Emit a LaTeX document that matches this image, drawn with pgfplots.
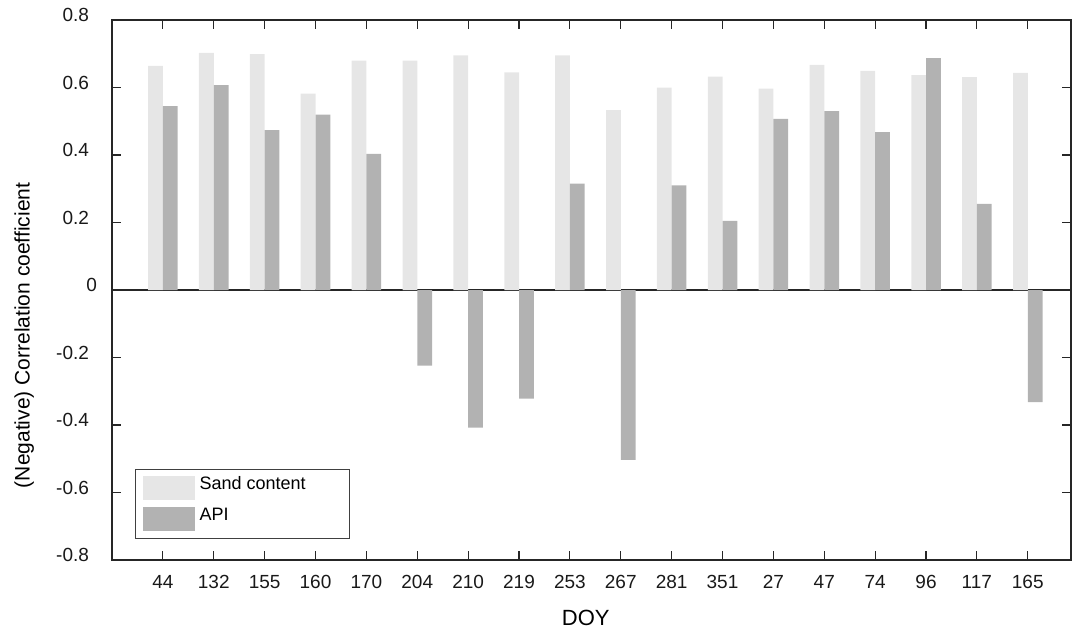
\documentclass[border=0pt]{standalone}
\usepackage{pgfplots}
\pgfplotsset{compat=1.18}
\usepackage{pgfplotstable}
\usepackage{fontspec}
\setmainfont{Liberation Sans}
\definecolor{lightbar}{HTML}{E6E6E6}
\definecolor{darkbar}{HTML}{B2B2B2}
\definecolor{axisgray}{HTML}{262626}

\pgfplotstableread{
x sand
0 0.664
1 0.703
2 0.699
3 0.582
4 0.680
5 0.680
6 0.695
7 0.645
8 0.695
9 0.533
10 0.600
11 0.632
12 0.597
13 0.667
14 0.649
15 0.637
16 0.631
17 0.643
}\sandtable

\pgfplotstableread{
x api
0 0.545
1 0.607
2 0.474
3 0.520
4 0.403
5 -0.224
6 -0.408
7 -0.322
8 0.315
9 -0.503
10 0.310
11 0.205
12 0.507
13 0.530
14 0.468
15 0.687
16 0.255
17 -0.332
}\apitable

\begin{document}
\begin{tikzpicture}
\useasboundingbox (-56pt,-34.5pt) rectangle (480pt,280pt);
\begin{axis}[
  at={(0,0)}, anchor=south west,
  scale only axis, width=479.5pt, height=270pt,
  xmin=-1, xmax=17.85, ymin=-0.8, ymax=0.8,
  xtick={0,...,17},
  xticklabels={44,132,155,160,170,204,210,219,253,267,281,351,27,47,74,96,117,165},
  ytick={-0.8,-0.6,-0.4,-0.2,0,0.2,0.4,0.6,0.8},
  yticklabels={-0.8,-0.6,-0.4,-0.2,{0\kern-4pt},0.2,0.4,0.6,0.8},
  tick align=inside,
  major tick length=4.5pt,
  axis line style={line width=0.7pt, color=axisgray},
  every tick/.style={line width=0.6pt, color=axisgray},
  tick label style={font=\fontsize{9.5}{11}\selectfont, color=black!90},
  x tick label style={yshift=-4pt},
  y tick label style={xshift=-8pt, yshift=2.5pt},
  xlabel={DOY},
  ylabel={(Negative) Correlation coefficient},
  xlabel style={font=\fontsize{11}{13}\selectfont, at={(axis description cs:0.494,0)}, anchor=center, yshift=-29pt},
  ylabel style={font=\fontsize{10.5}{12}\selectfont, at={(axis description cs:-0.0915,0.416)}, anchor=center},
  extra y ticks={0},
  extra y tick labels={},
  extra y tick style={grid=major, major grid style={color=axisgray, line width=0.8pt}, major tick length=0pt},
  legend style={at={(0.024,0.039)}, anchor=south west, draw=black!75, line width=0.6pt,
    font=\fontsize{9}{11}\selectfont, nodes={inner sep=0pt, text depth=0pt},
    inner xsep=3.5pt, inner ysep=3.5pt, row sep=3.5pt, column sep=2.5pt, cells={anchor=west}},
  legend image code/.code={\fill[#1] (0pt,-8.5pt) rectangle (26pt,3.5pt);},
]
\addplot[ybar, bar width=0.29, bar shift=-0.145, fill=lightbar, draw=none] table[x=x, y=sand] {\sandtable};
\addplot[ybar, bar width=0.29, bar shift=0.145, fill=darkbar, draw=none] table[x=x, y=api] {\apitable};
\legend{Sand content\rule{18.5pt}{0pt}, API}
\end{axis}
\end{tikzpicture}
\end{document}
